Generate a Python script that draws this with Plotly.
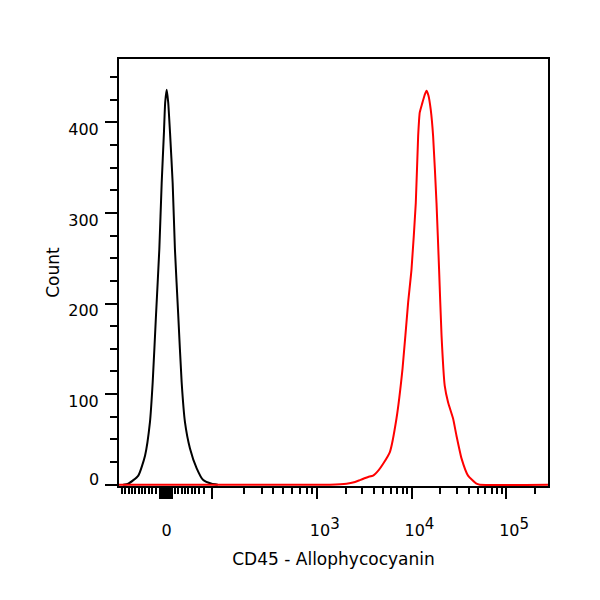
"""
cd45_histogram.py
Flow cytometry overlay: CD45 - Allophycocyanin, unstained vs stained.
X values are kept in display units of the biexponential axis
(one unit per decade, 10^3 at 3, 10^4 at 4, 10^5 at 5).
"""

import math
import plotly.graph_objects as go

# ── Data ──────────────────────────────────────────────────────────────────────
unstained_x = [0.950, 1.004, 1.110, 1.181, 1.233, 1.262, 1.297, 1.332, 1.357,
               1.381, 1.394, 1.410, 1.426, 1.445, 1.473, 1.497, 1.532, 1.568,
               1.603, 1.656, 1.727, 1.796, 1.885, 1.950]
unstained_count = [0, 1, 10, 32, 69, 113, 187, 260, 333,
                   389, 422, 436, 422, 389, 333, 260, 187, 113,
                   69, 40, 18, 5, 1, 0]

stained_x = [0.906, 3.134, 3.310, 3.400, 3.451, 3.500, 3.539, 3.591, 3.650,
             3.697, 3.768, 3.838, 3.902, 3.961, 3.997, 4.042, 4.067, 4.084,
             4.110, 4.135, 4.155, 4.175, 4.200, 4.225, 4.261, 4.288, 4.314,
             4.348, 4.383, 4.436, 4.472, 4.525, 4.594, 4.683, 4.718, 5.439]
stained_count = [0, 0, 1, 3, 5, 7, 8.5, 10, 16,
                 23, 36, 73, 128, 201, 238, 311, 385, 411,
                 421, 430, 435, 430, 414, 385, 311, 238, 165,
                 109, 91, 73, 54, 29, 10, 1, 0, 0]

# ── Axis ticks (display units) ────────────────────────────────────────────────
X_RANGE = [0.906, 5.439]
Y_RANGE = [-1.5, 470]

zero_pos = 1.410
hundred_pos = 1.888
zero_cluster = [1.339, 1.355, 1.371, 1.387, 1.424, 1.440, 1.455, 1.471]
decades = [3, 4, 5]

linear_minor = [0.938, 0.973, 1.009, 1.044, 1.078, 1.114, 1.149, 1.184, 1.220,
                1.255, 1.292, 1.498, 1.532, 1.568, 1.603, 1.638, 1.674, 1.714,
                1.756, 1.809]
low_decade_minor = [2.226, 2.419, 2.535, 2.635, 2.730, 2.817, 2.888, 2.947]
log_minor = [math.log10(k * 10 ** n) for n in (3, 4, 5) for k in range(2, 10)
             if math.log10(k * 10 ** n) < X_RANGE[1]]

y_major = [0, 100, 200, 300, 400]
y_labelled = [100, 200, 300, 400]

FONT = "DejaVu Sans"
RED = "#FF0000"
BLACK = "#000000"
CLEAR = "rgba(0,0,0,0)"
PAGE_OFFSET = 8  # body margin of the html page
X_TICK_SIZE = 16
Y_TICK_SIZE = 16
X_TICKLEN = 11
Y_TICKLEN = 12


def decade_label(n: int) -> str:
    # pad on the left so that "10" stays centred under its tick
    return ("\u00a0\u00a0\u00a010<sup><span style=\"font-size:%dpx\">%d</span></sup>"
            % (X_TICK_SIZE - 1, n))


def build_figure() -> go.Figure:
    fig = go.Figure()

    fig.add_trace(go.Scatter(
        x=unstained_x, y=unstained_count, mode="lines",
        line=dict(color=BLACK, width=2, shape="spline", smoothing=0.5),
        showlegend=False, name="Unstained", xaxis="x", yaxis="y"
    ))
    # stained sample sits on the overlay axes that carry the tick labels
    fig.add_trace(go.Scatter(
        x=stained_x, y=stained_count, mode="lines",
        line=dict(color=RED, width=2, shape="spline", smoothing=0.5),
        showlegend=False, name="CD45 APC", xaxis="x2", yaxis="y2"
    ))

    # main axes: frame and tick marks only
    fig.update_layout(
        xaxis=dict(
            range=X_RANGE,
            showline=True, linecolor=BLACK, linewidth=1.5, mirror=True,
            showgrid=False, zeroline=False, layer="below traces",
            tickmode="array",
            tickvals=zero_cluster + [zero_pos, hundred_pos] + decades,
            showticklabels=False,
            ticks="outside", ticklen=X_TICKLEN, tickwidth=2, tickcolor=BLACK,
            minor=dict(tickmode="array",
                       tickvals=linear_minor + low_decade_minor + log_minor,
                       ticks="outside", ticklen=6, tickwidth=1.5,
                       tickcolor=BLACK),
        ),
        yaxis=dict(
            range=Y_RANGE,
            showline=True, linecolor=BLACK, linewidth=1.5, mirror=True,
            showgrid=False, zeroline=False, layer="below traces",
            tickmode="array", tickvals=y_major, showticklabels=False,
            ticks="outside", ticklen=Y_TICKLEN, tickwidth=2, tickcolor=BLACK,
            minor=dict(dtick=25, tick0=0, ticks="outside", ticklen=7,
                       tickwidth=1.5, tickcolor=BLACK),
        ),
        # overlay axes: labels and titles
        xaxis2=dict(
            range=X_RANGE, overlaying="x", anchor="y2", side="bottom",
            showline=False, showgrid=False, zeroline=False,
            tickmode="array", tickvals=[zero_pos] + decades,
            ticktext=["0"] + [decade_label(n) for n in decades],
            ticks="outside", ticklen=X_TICKLEN, tickcolor=CLEAR,
            tickangle=0, ticklabelstandoff=19,
            tickfont=dict(family=FONT, size=X_TICK_SIZE, color=BLACK),
            title=dict(text="CD45 - Allophycocyanin",
                       font=dict(family=FONT, size=17, color=BLACK),
                       standoff=13),
        ),
        yaxis2=dict(
            range=Y_RANGE, overlaying="y", anchor="x2", side="left",
            showline=False, showgrid=False, zeroline=False,
            tickmode="array", tickvals=y_labelled,
            ticktext=[str(v) for v in y_labelled],
            ticks="outside", ticklen=Y_TICKLEN, tickcolor=CLEAR,
            ticklabelstandoff=4, ticklabelshift=7,
            tickfont=dict(family=FONT, size=Y_TICK_SIZE, color=BLACK),
            title=dict(text="Count",
                       font=dict(family=FONT, size=17, color=BLACK),
                       standoff=4),
        ),
    )

    # "0" on the count axis sits just above its tick
    fig.add_annotation(
        x=0, xref="paper", y=0, yref="y", text="0",
        showarrow=False, xanchor="right", yanchor="middle",
        xshift=-18, yshift=5,
        font=dict(family=FONT, size=Y_TICK_SIZE, color=BLACK)
    )

    fig.update_layout(
        width=600, height=600,
        margin=dict(l=119 - PAGE_OFFSET, r=52 + PAGE_OFFSET,
                    t=59 - PAGE_OFFSET, b=114 + PAGE_OFFSET, autoexpand=False),
        plot_bgcolor="white", paper_bgcolor="white",
        font=dict(family=FONT, color=BLACK),
    )
    return fig


if __name__ == "__main__":
    fig = build_figure()
    fig.write_html("out.html")
